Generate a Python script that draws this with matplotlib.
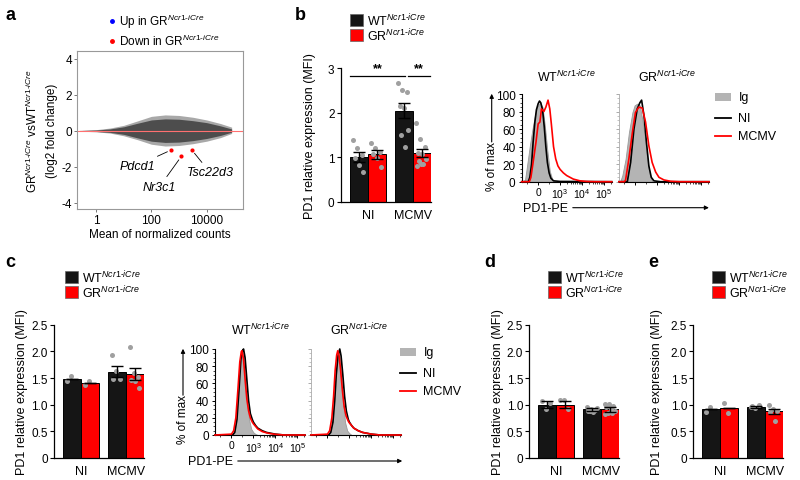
import numpy as np
import matplotlib
matplotlib.use("Agg")
import matplotlib.pyplot as plt
from matplotlib.patches import Rectangle, FancyArrowPatch
from matplotlib.lines import Line2D
from matplotlib.ticker import FixedLocator, NullFormatter

plt.rcParams["font.family"] = ["Liberation Sans", "DejaVu Sans"]
plt.rcParams["mathtext.fontset"] = "custom"
plt.rcParams["mathtext.rm"] = "Liberation Sans"
plt.rcParams["mathtext.it"] = "Liberation Sans:italic"
plt.rcParams["mathtext.bf"] = "Liberation Sans:bold"

# ---- panel a : MA plot (cloud drawn as envelope) ----
ma_counts = [0.25, 1, 3.2, 10, 32, 100, 316, 1000, 3162, 10000, 31623, 79433]
ma_hi_outer = [0.02, 0.06, 0.15, 0.30, 0.55, 0.80, 0.88, 0.85, 0.75, 0.60, 0.40, 0.20]
ma_lo_outer = [-0.02, -0.06, -0.13, -0.28, -0.50, -0.75, -0.85, -0.82, -0.72, -0.58, -0.38, -0.15]
ma_hi_inner = [0.01, 0.04, 0.10, 0.22, 0.42, 0.60, 0.66, 0.64, 0.56, 0.45, 0.27, 0.10]
ma_lo_inner = [-0.01, -0.04, -0.09, -0.20, -0.40, -0.58, -0.65, -0.63, -0.55, -0.43, -0.26, -0.08]
genes = ["Pdcd1", "Nr3c1", "Tsc22d3"]
gene_counts = [520, 1200, 2900]
gene_lfc = [-1.07, -1.43, -1.07]
gene_label_xy = [(30, -1.94), (200, -3.1), (13000, -2.31)]

# ---- bar panels: NI WT, NI GR, MCMV WT, MCMV GR ----
groups = ["NI", "MCMV"]
b_means = [1.00, 1.07, 2.05, 1.10]
b_errs = [0.11, 0.10, 0.17, 0.09]
b_pts = [[1.39, 1.20, 1.04, 0.98, 0.83, 0.66],
         [1.31, 1.20, 1.11, 1.07, 0.98, 0.77],
         [2.66, 2.51, 2.46, 2.16, 2.10, 1.61, 1.50, 1.22],
         [1.76, 1.41, 1.22, 1.09, 1.07, 0.96, 0.92, 0.85, 0.81, 0.85]]
c_means = [1.48, 1.41, 1.62, 1.57]
c_errs = [0.0, 0.0, 0.11, 0.11]
c_pts = [[1.45, 1.53], [1.36, 1.45], [1.93, 1.63, 1.49, 1.48],
         [2.09, 1.60, 1.52, 1.47, 1.45, 1.31]]
d_means = [1.00, 1.00, 0.91, 0.91]
d_errs = [0.06, 0.07, 0.03, 0.04]
d_pts = [[1.07, 0.92, 1.03], [1.09, 1.08, 0.92],
         [0.96, 0.92, 0.90, 0.88, 0.86, 0.93, 0.89],
         [1.02, 1.01, 0.98, 0.95, 0.92, 0.88, 0.85, 0.84, 0.83, 0.97]]
e_means = [0.92, 0.93, 0.96, 0.875]
e_errs = [0.0, 0.0, 0.02, 0.05]
e_pts = [[0.86, 0.96], [1.03, 0.84], [0.95, 0.94, 1.00, 0.97],
         [0.99, 0.92, 0.89, 0.86, 0.70]]

# ---- flow histograms (% of max vs PD1-PE) ----
b_wt_ig_x = [-750, -600, -530, -380, -260, -150, -50, 80, 200, 300, 420, 530, 650, 800, 224000]
b_wt_ig_y = [0, 2, 14, 41, 60, 75, 85, 90, 85, 65, 35, 12, 2, 0, 0]
b_wt_ni_x = [-750, -450, -380, -300, -230, -150, -80, 0, 60, 120, 200, 280, 350, 420, 500, 580, 700, 1000, 224000]
b_wt_ni_y = [0, 0, 5, 20, 45, 68, 82, 89, 92, 90, 82, 62, 40, 22, 10, 4, 1, 0.3, 0]
b_wt_mc_x = [-750, -400, -330, -230, -100, 0, 80, 150, 260, 350, 450, 530, 600, 700, 800, 900, 1000,
             1413, 1995, 2818, 3981, 7943, 15849, 40000, 224000]
b_wt_mc_y = [0, 0, 5, 22, 45, 66, 68, 83, 80, 85, 93, 83, 66, 40, 26, 18, 14, 10, 7, 5, 3, 1, 0.3, 0, 0]
b_gr_ig_x = [-750, -700, -600, -450, -300, -140, -40, 80, 200, 310, 420, 540, 660, 770, 224000]
b_gr_ig_y = [0, 0, 7, 26, 56, 79, 87, 89, 87, 71, 52, 26, 7, 0, 0]
b_gr_ni_x = [-750, -370, -220, -70, 80, 200, 280, 390, 500, 610, 720, 840, 1380, 224000]
b_gr_ni_y = [0, 0, 22, 60, 83, 90, 93, 75, 45, 18, 5, 1, 0, 0]
b_gr_mc_x = [-750, -500, -450, -300, -140, 0, 150, 310, 460, 610, 760, 920, 1175, 1995, 3981, 10000, 224000]
b_gr_mc_y = [0, 0, 2, 26, 56, 79, 85, 84, 68, 41, 22, 11, 5, 2, 0.5, 0, 0]

c_wt_ig_x = [-750, 0, 100, 200, 300, 380, 450, 500, 560, 640, 720, 800, 900, 1000, 1259, 1585, 224000]
c_wt_ig_y = [0, 0, 3, 15, 45, 80, 96, 98, 92, 70, 40, 18, 7, 3, 1, 0, 0]
c_wt_ni_x = [-750, 50, 150, 250, 350, 430, 500, 550, 620, 700, 780, 860, 950, 1000, 1259, 1585, 2512,
             3981, 6310, 10000, 25119, 224000]
c_wt_ni_y = [0, 0, 3, 18, 55, 88, 98, 100, 90, 65, 40, 25, 18, 15, 11, 8, 5, 3, 2, 1, 0, 0]
c_wt_mc_x = [-750, 0, 100, 200, 300, 380, 450, 480, 550, 630, 700, 780, 860, 950, 1000, 1259, 1585,
             2512, 3981, 6310, 10000, 25119, 224000]
c_wt_mc_y = [0, 1, 5, 20, 55, 85, 97, 98, 88, 62, 42, 28, 20, 15, 13, 10, 7, 4, 2.5, 1.5, 0.8, 0, 0]
c_gr_ig_x = [-750, 0, 100, 200, 300, 380, 450, 500, 560, 640, 720, 800, 900, 1000, 1259, 224000]
c_gr_ig_y = [0, 0, 3, 15, 42, 75, 92, 96, 90, 68, 38, 15, 5, 2, 0, 0]
c_gr_ni_x = [-750, 50, 150, 250, 330, 400, 480, 560, 620, 700, 780, 860, 950, 1000, 1259, 1585, 2512,
             3981, 6310, 10000, 25119, 224000]
c_gr_ni_y = [0, 0, 3, 15, 40, 70, 92, 100, 92, 70, 45, 28, 18, 15, 11, 8, 5, 3, 2, 1, 0, 0]
c_gr_mc_x = [-750, 0, 100, 200, 280, 350, 420, 470, 530, 600, 680, 760, 850, 950, 1000, 1259, 1585,
             2512, 3981, 6310, 10000, 25119, 224000]
c_gr_mc_y = [0, 1, 5, 20, 45, 75, 93, 98, 92, 75, 52, 33, 22, 16, 14, 11, 8, 5, 3, 2, 1, 0, 0]

SUP = r"$^{\mathit{Ncr1}\text{-}\mathit{iCre}}$"
WT = "WT" + SUP
GR = "GR" + SUP
RED = "#ff0000"
DARK = "#151515"

W, H = 800, 481
fig = plt.figure(figsize=(8, 4.81), dpi=100)


def box(l, t, r, b):
    return fig.add_axes([l / W, 1 - b / H, (r - l) / W, (b - t) / H])


def ftxt(x, y, s, **kw):
    kw.setdefault("fontsize", 8.5)
    fig.text(x / W, 1 - y / H, s, **kw)


def farrow(x0, y0, x1, y1):
    fig.add_artist(FancyArrowPatch((x0 / W, 1 - y0 / H), (x1 / W, 1 - y1 / H),
                                   transform=fig.transFigure, arrowstyle="-|>",
                                   mutation_scale=6, lw=0.8, color="black"))


# panel letters
for letter, (x, y) in zip("abcde", [(10, 15), (300, 15), (10, 263), (490, 263), (653, 263)]):
    ftxt(x, y, letter, fontsize=13, fontweight="bold", va="center", ha="center")

# ---------------- a ----------------
ax = box(76.7, 51.7, 242.7, 210)
ax.set_xscale("log")
ax.fill_between(ma_counts, ma_lo_outer, ma_hi_outer, color="#a8a8a8", lw=0)
ax.fill_between(ma_counts, ma_lo_inner, ma_hi_inner, color="#4d4d4d", lw=0)
ax.axhline(0, color="#ff7070", lw=0.8)
ax.scatter(gene_counts, gene_lfc, s=9, color=RED, zorder=3, lw=0)
for g, gx, gy, (tx, ty) in zip(genes, gene_counts, gene_lfc, gene_label_xy):
    ax.annotate(g, xy=(gx, gy), xytext=(tx, ty), fontsize=9, style="italic",
                ha="center", va="center",
                arrowprops=dict(arrowstyle="-", lw=0.6, color="black", shrinkA=1, shrinkB=3))
ax.set_xlim(10 ** -0.7, 10 ** 5.3)
ax.set_ylim(-4.35, 4.45)
ax.xaxis.set_major_locator(FixedLocator([1, 100, 10000]))
ax.set_xticklabels(["1", "100", "10000"])
ax.xaxis.set_minor_locator(FixedLocator([]))
ax.set_yticks([-4, -2, 0, 2, 4])
ax.set_yticklabels(["-4", "-2", "0", "2", "4"])
ax.tick_params(labelsize=8.5, length=2.5, width=0.7, color="#777777", pad=1)
for s in ax.spines.values():
    s.set_color("#999999")
    s.set_linewidth(0.8)
ftxt(159.7, 235, "Mean of normalized counts", ha="center", va="center")
ftxt(32, 131, "GR" + SUP + " vsWT" + SUP, rotation=90, ha="center", va="center")
ftxt(52, 131, "(log2 fold change)", rotation=90, ha="center", va="center")
fig.add_artist(Line2D([112.3 / W], [1 - 21.7 / H], marker="o", ms=2.5, color="blue", lw=0))
fig.add_artist(Line2D([112.3 / W], [1 - 41.7 / H], marker="o", ms=2.5, color=RED, lw=0))
ftxt(119, 21.7, "Up in " + GR, va="center")
ftxt(119, 41.7, "Down in " + GR, va="center")


# ---------------- bar panels ----------------
def bar_panel(left, top, bottom, ymax, yticks, ylabels, means, errs, pts, ylab_x, leg_x, leg_y):
    ax = box(left, top, left + 90, bottom)
    xs = [1.0, 2.0, 3.5, 4.5]
    cols = [DARK, RED, DARK, RED]
    ax.bar(xs, means, width=1.0, color=cols, edgecolor="black", linewidth=0.7, zorder=2)
    for x, ys in zip(xs, pts):
        n = len(ys)
        offs = ((np.arange(n) * 0.38) % 1 - 0.5) * 0.6
        ax.scatter(x + offs, ys, s=13, color="#a0a0a0", lw=0, zorder=3, clip_on=False)
    ax.errorbar(xs, means, yerr=errs, fmt="none", ecolor="black", elinewidth=1,
                capsize=4, capthick=1, zorder=4)
    ax.set_xlim(0, 5)
    ax.set_ylim(0, ymax)
    ax.set_xticks([1.5, 4.0])
    ax.set_xticklabels(groups, fontsize=9)
    ax.set_yticks(yticks)
    ax.set_yticklabels(ylabels)
    ax.tick_params(axis="x", length=0, pad=5)
    ax.tick_params(axis="y", labelsize=8.5, length=3, width=0.8, pad=1.5)
    for s in ["top", "right"]:
        ax.spines[s].set_visible(False)
    for s in ["left", "bottom"]:
        ax.spines[s].set_linewidth(0.9)
    ftxt(ylab_x, (top + bottom) / 2, "PD1 relative expression (MFI)", rotation=90,
         ha="center", va="center", fontsize=9)
    for i, (c, lab) in enumerate([(DARK, WT), (RED, GR)]):
        y0 = leg_y + i * 15
        fig.add_artist(Rectangle((leg_x / W, 1 - (y0 + 12) / H), 13 / W, 12 / H,
                                 transform=fig.transFigure, facecolor=c,
                                 edgecolor="#666666", lw=0.5))
        ftxt(leg_x + 17, y0 + 6, lab, va="center", fontsize=9)
    return ax


ax = bar_panel(340.7, 69.3, 202.7, 3, [0, 1, 2, 3], ["0", "1", "2", "3"],
               b_means, b_errs, b_pts, 310, 350, 15)
ax.plot([0.5, 3.55], [2.83, 2.83], color="black", lw=0.9, clip_on=False)
ax.plot([3.75, 4.95], [2.83, 2.83], color="black", lw=0.9, clip_on=False)
ax.text(2.05, 2.86, "**", ha="center", va="bottom", fontsize=9, fontweight="bold")
ax.text(4.35, 2.86, "**", ha="center", va="bottom", fontsize=9, fontweight="bold")

ticks25 = [0, 0.5, 1.0, 1.5, 2.0, 2.5]
labs25 = ["0", "0.5", "1.0", "1.5", "2.0", "2.5"]
bar_panel(54, 325.7, 459, 2.5, ticks25, labs25, c_means, c_errs, c_pts, 21.7, 65, 271.7)
bar_panel(529.3, 325.7, 459, 2.5, ticks25, labs25, d_means, d_errs, d_pts, 498, 548.3, 271.7)
bar_panel(693.3, 325.7, 459, 2.5, ticks25, labs25, e_means, e_errs, e_pts, 657, 711.7, 271.7)


# ---------------- histograms ----------------
minor_x = [-500, 500] + [k * 10 ** d for d in (3, 4, 5) for k in range(2, 10)]
pct_ticks = [0, 20, 40, 60, 80, 100]
pct_minor = [v for v in range(0, 101, 5) if v % 20]


def hist_ax(left, top, bottom, curves, first):
    ax = box(left, top, left + 90, bottom)
    (ix, iy), (nx, ny), (mx, my) = curves
    ax.fill_between(ix, 0, iy, color="#b4b4b4", lw=0.6, edgecolor="#9a9a9a", zorder=1)
    ax.plot(nx, ny, color="black", lw=1.2, zorder=2, clip_on=False)
    ax.plot(mx, my, color=RED, lw=1.2, zorder=3, clip_on=False)
    ax.set_xscale("symlog", linthresh=1000, linscale=0.9)
    ax.set_xlim(-750, 224000)
    ax.set_ylim(0, 100)
    ax.xaxis.set_major_locator(FixedLocator([0, 1000, 10000, 100000]))
    ax.xaxis.set_minor_locator(FixedLocator(minor_x))
    ax.yaxis.set_major_locator(FixedLocator(pct_ticks))
    ax.yaxis.set_minor_locator(FixedLocator(pct_minor))
    for s in ["top", "right"]:
        ax.spines[s].set_visible(False)
    ax.spines["bottom"].set_linewidth(0.8)
    ax.tick_params(which="major", length=2.5, width=0.7, pad=2)
    ax.tick_params(axis="x", which="major", pad=1)
    ax.tick_params(which="minor", length=1.3, width=0.5)
    if first:
        ax.set_xticklabels(["0", "$10^3$", "$10^4$", "$10^5$"], fontsize=7.5)
        ax.set_yticklabels([str(v) for v in pct_ticks], fontsize=8.5)
        ax.spines["left"].set_linewidth(0.8)
    else:
        ax.xaxis.set_major_formatter(NullFormatter())
        ax.yaxis.set_major_formatter(NullFormatter())
        ax.spines["left"].set_color("#aaaaaa")
        ax.spines["left"].set_linewidth(0.6)
        ax.tick_params(axis="y", which="both", color="#aaaaaa")
    return ax


def hist_group(l1, l2, top, bottom, title_y, wt_curves, gr_curves, ylab_x, pe_x, arrow_end, leg_x):
    hist_ax(l1, top, bottom, wt_curves, True)
    hist_ax(l2, top, bottom, gr_curves, False)
    ftxt(l1 + 45, title_y, WT, ha="center", va="center", fontsize=9)
    ftxt(l2 + 48, title_y, GR, ha="center", va="center", fontsize=9)
    ftxt(ylab_x, bottom - 16, "% of max", rotation=90, ha="center", va="center", fontsize=8.5)
    farrow(ylab_x, bottom - 37, ylab_x, top - 3)
    ftxt(pe_x, bottom + 26, "PD1-PE", ha="left", va="center", fontsize=9)
    farrow(pe_x + 47, bottom + 26, arrow_end, bottom + 26)
    ly = top + 3
    fig.add_artist(Rectangle((leg_x / W, 1 - (ly + 4) / H), 16 / W, 8 / H,
                             transform=fig.transFigure, facecolor="#b4b4b4", lw=0))
    ftxt(leg_x + 24, ly, "Ig", va="center", fontsize=9)
    for i, c in enumerate(["black", RED]):
        yy = ly + 21 + 18 * i
        fig.add_artist(Line2D([leg_x / W, (leg_x + 16) / W], [1 - yy / H, 1 - yy / H], color=c, lw=1.3))
        ftxt(leg_x + 23, yy, ["NI", "MCMV"][i], va="center", fontsize=9)


hist_group(521.7, 619, 95, 182.7, 76.7,
           [(b_wt_ig_x, b_wt_ig_y), (b_wt_ni_x, b_wt_ni_y), (b_wt_mc_x, b_wt_mc_y)],
           [(b_gr_ig_x, b_gr_ig_y), (b_gr_ni_x, b_gr_ni_y), (b_gr_mc_x, b_gr_mc_y)],
           491.7, 523, 711.7, 715)
hist_group(215, 311, 350, 436, 330,
           [(c_wt_ig_x, c_wt_ig_y), (c_wt_ni_x, c_wt_ni_y), (c_wt_mc_x, c_wt_mc_y)],
           [(c_gr_ig_x, c_gr_ig_y), (c_gr_ni_x, c_gr_ni_y), (c_gr_mc_x, c_gr_mc_y)],
           183, 188, 405, 400)

fig.savefig("out.png", dpi=100)
